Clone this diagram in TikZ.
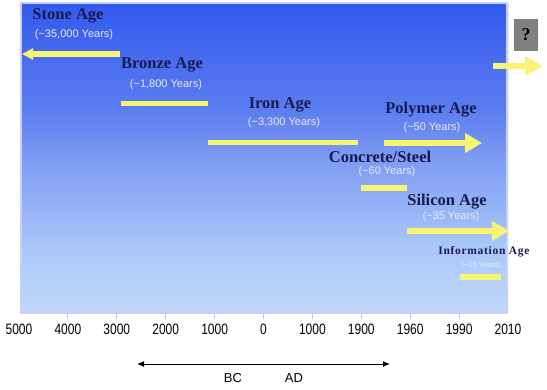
\documentclass[tikz,border=0pt]{standalone}
\usepackage{fontspec}
\setmainfont{Liberation Serif}
\newfontfamily\lsans{Liberation Sans}
\newfontfamily\axisf[FakeStretch=0.8]{Liberation Sans}
\usetikzlibrary{arrows.meta}
\definecolor{skytop}{RGB}{50,90,238}
\definecolor{skyA}{RGB}{90,124,240}
\definecolor{skymid}{RGB}{125,155,242}
\definecolor{skyB}{RGB}{168,198,248}
\definecolor{skybot}{RGB}{192,216,250}
\definecolor{skyedge}{RGB}{200,208,246}
\definecolor{barcol}{RGB}{246,244,112}
\definecolor{titlecol}{RGB}{26,26,80}
\definecolor{subcol}{RGB}{232,234,250}
\definecolor{tickcol}{RGB}{190,198,230}
\definecolor{qgray}{RGB}{128,128,128}
\pgfdeclareverticalshading{agesky}{100bp}{color(0bp)=(skybot); color(25bp)=(skybot); color(36bp)=(skyB); color(50bp)=(skymid); color(58bp)=(skyA); color(75bp)=(skytop); color(100bp)=(skytop)}
\tikzset{
  agetitle/.style={inner sep=0pt, text=titlecol, font=\fontsize{16.5}{18}\selectfont\bfseries},
  agesub/.style={inner sep=0pt, text=subcol, font=\lsans\fontsize{11}{12}\selectfont},
  axislab/.style={inner sep=0pt, font=\axisf\fontsize{15}{16}\selectfont},
  eralab/.style={inner sep=0pt, font=\lsans\fontsize{13}{14}\selectfont},
  agebar/.style={draw=barcol, line width=5.5pt},
  agearrow/.style={draw=barcol, line width=5.5pt, -{Triangle[length=17pt,width=19pt]}},
}
\begin{document}
\begin{tikzpicture}[x=1pt,y=-1pt]
\useasboundingbox (0,0) rectangle (547,389);
\fill[white] (0,0) rectangle (547,389);
% sky panel
\shade[shading=agesky] (20,2) rectangle (508,313);
\draw[skyedge, line width=2pt] (21,3) rectangle (507,312);
% ticks
\foreach \k in {1,...,9}{
  \draw[tickcol, line width=1pt] ({19+48.9*\k},313) -- ({19+48.9*\k},319);
}
% axis labels
\foreach \k/\t in {0/5000,1/4000,2/3000,3/2000,4/1000,5/0,6/1000,7/1900,8/1960,9/1990,10/2010}{
  \node[axislab] (lab\k) at ({19+48.9*\k},329) {\t};
}
% BC / AD
\coordinate (eraL) at (137,364);
\coordinate (eraR) at (390,364);
\draw[line width=1pt, {Latex[length=7pt,width=6pt]}-{Latex[length=7pt,width=6pt]}] (eraL) -- (eraR);
\node[eralab] (bc) at (233,378) {BC};
\node[eralab] (ad) at (294,378) {AD};
% Stone age
\node[agetitle] (stoneT) at (68,16) {Stone Age};
\node[agesub] (stoneS) at (74,35) {(\textasciitilde35,000 Years)};
\coordinate (stoneA) at (120,54);
\coordinate (stoneB) at (22,54);
\draw[agebar, -{Triangle[length=11pt,width=11pt]}] (stoneA) -- (stoneB);
% Bronze
\node[agetitle] (bronzeT) at (162,65) {Bronze Age};
\node[agesub] (bronzeS) at (166,85) {(\textasciitilde1,800 Years)};
\coordinate (bronzeA) at (121,103.5);
\coordinate (bronzeB) at (208,103.5);
\draw[agebar] (bronzeA) -- (bronzeB);
% Iron
\node[agetitle] (ironT) at (280,105) {Iron Age};
\node[agesub] (ironS) at (284,123) {(\textasciitilde3,300 Years)};
\coordinate (ironA) at (208,142.5);
\coordinate (ironB) at (358,142.5);
\draw[agebar] (ironA) -- (ironB);
% Polymer
\node[agetitle] (polyT) at (431,110) {Polymer Age};
\node[agesub] (polyS) at (432,128) {(\textasciitilde50 Years)};
\coordinate (polyA) at (384,143);
\coordinate (polyB) at (482,143);
\draw[agearrow] (polyA) -- (polyB);
% Concrete
\node[agetitle] (concT) at (380,157) {Concrete/Steel};
\node[agesub] (concS) at (387,172) {(\textasciitilde60 Years)};
\coordinate (concA) at (361,188);
\coordinate (concB) at (407,188);
\draw[agebar] (concA) -- (concB);
% Silicon
\node[agetitle] (siliT) at (447,202) {Silicon Age};
\node[agesub] (siliS) at (451,217) {(\textasciitilde35 Years)};
\coordinate (siliA) at (407,231);
\coordinate (siliB) at (509,231);
\draw[agearrow] (siliA) -- (siliB);
% Information
\node[inner sep=0pt, text=titlecol, font=\fontsize{11.5}{13}\selectfont\bfseries\addfontfeature{LetterSpace=6}] (infoT) at (484,252) {Information Age};
\node[inner sep=0pt, text=subcol, font=\lsans\fontsize{7.5}{8}\selectfont] (infoS) at (481,266) {(\textasciitilde15 Years)};
\coordinate (infoA) at (460,277);
\coordinate (infoB) at (501,277);
\draw[agebar] (infoA) -- (infoB);
% future
\node[fill=qgray, minimum width=24pt, minimum height=32pt, inner sep=0pt, font=\fontsize{18}{20}\selectfont\bfseries] (q) at (526,35) {?};
\coordinate (futA) at (493,66);
\coordinate (futB) at (543,66);
\draw[agearrow, -{Triangle[length=18pt,width=18pt]}] (futA) -- (futB);
\end{tikzpicture}
\end{document}
